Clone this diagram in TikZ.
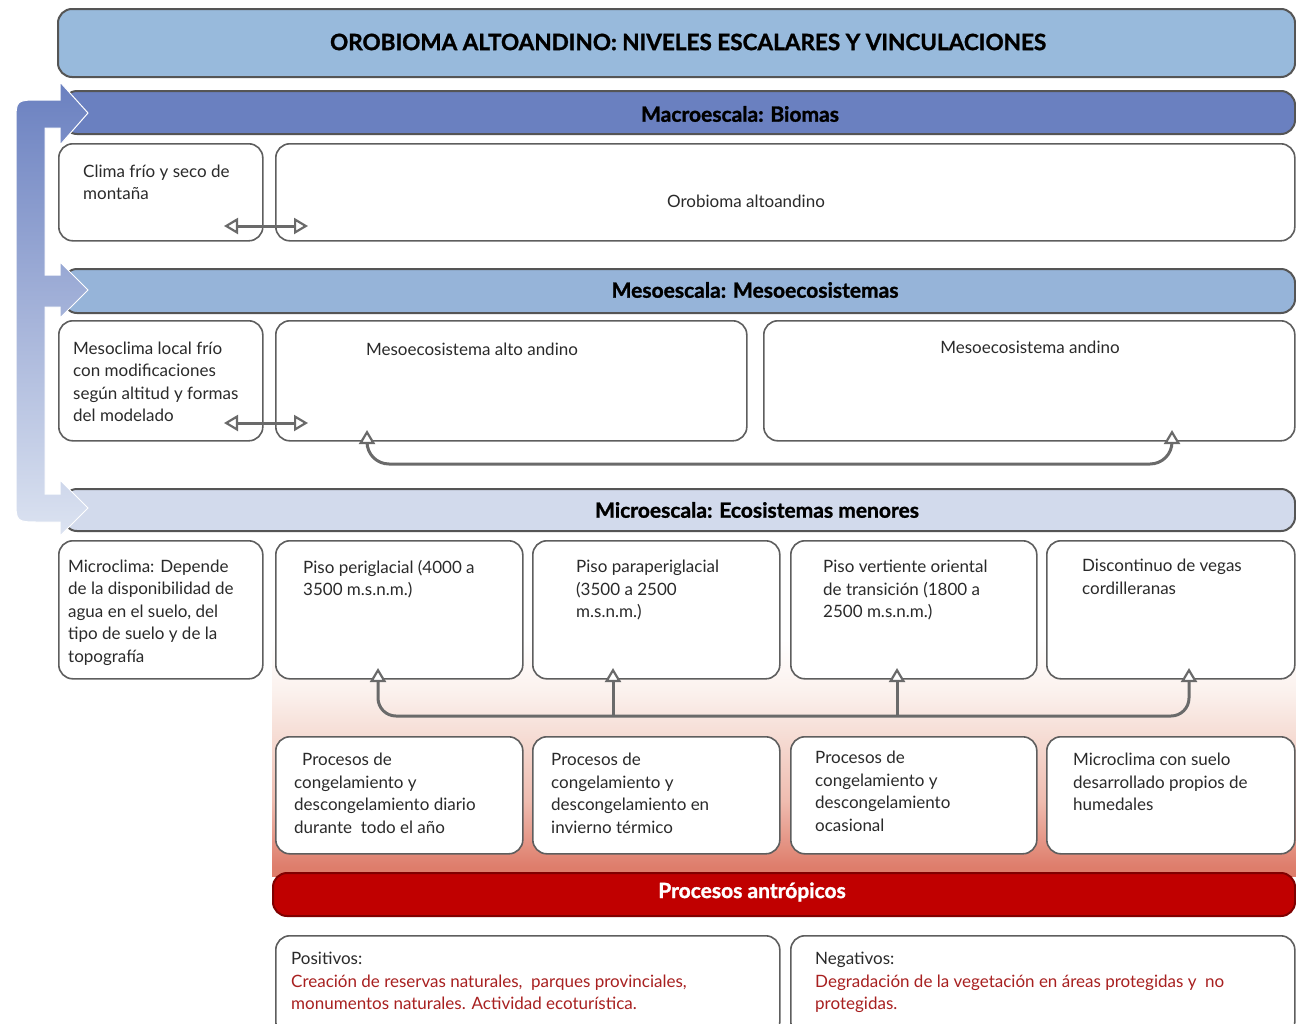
\documentclass[tikz,border=0pt]{standalone}
\usepackage{fontspec}
\setmainfont{Lato}
\newfontfamily\heavyfont[FakeBold=1.3]{Lato Bold}
\usetikzlibrary{arrows.meta}
\definecolor{bordc}{HTML}{5E5E5E}
\definecolor{bardc}{HTML}{555555}
\definecolor{txtc}{HTML}{2A2A2A}
\definecolor{connc}{HTML}{6A6A6A}
\definecolor{titlec}{HTML}{98BADC}
\definecolor{macroc}{HTML}{6A80C0}
\definecolor{mesoc}{HTML}{96B4D9}
\definecolor{microc}{HTML}{D2DAEC}
\definecolor{redc}{HTML}{C00000}
\definecolor{redtxt}{HTML}{A82020}
\definecolor{salmon}{HTML}{DE7D6B}
\definecolor{pinkA}{HTML}{EFBCB0}
\definecolor{pinkB}{HTML}{F6DDD5}
\definecolor{pinkC}{HTML}{FBF1ED}
\definecolor{arrtop}{HTML}{6A80C0}
\definecolor{arrbot}{HTML}{DCE3F1}
\pgfdeclareverticalshading{bgsh}{100bp}{color(0bp)=(salmon); color(27bp)=(salmon); color(41bp)=(pinkA); color(55bp)=(pinkB); color(64bp)=(pinkC); color(75bp)=(white); color(100bp)=(white)}
\tikzset{
  bx/.style={draw=bordc, line width=1.6pt, rounded corners=14pt, fill=white, anchor=north west, inner sep=0pt},
  bar/.style={draw=bardc, line width=2pt, rounded corners=14pt, anchor=north west, inner sep=0pt},
  txt/.style={anchor=north west, align=left, inner sep=0pt, font=\fontsize{17}{22.5}\selectfont, text=txtc},
  ctxt/.style={anchor=center, align=center, inner sep=0pt, font=\fontsize{17}{22.5}\selectfont, text=txtc},
  ttl/.style={anchor=center, inner sep=0pt, font=\fontsize{21}{24}\heavyfont, text=black},
  conn/.style={draw=connc, line width=3pt},
  otip/.tip={Triangle[open, width=16pt, length=14pt, line width=2.2pt, fill=white]},
}
\begin{document}
\begin{tikzpicture}[x=1pt,y=-1pt]
\useasboundingbox (0,0) rectangle (1296,1023);
\fill[white] (0,0) rectangle (1296,1023);

% gradient background
\shade[shading=bgsh] (272,640) rectangle (1296,876);

% title bar
\node[bar, fill=titlec, minimum width=1237pt, minimum height=68pt] (title) at (57,8) {};
\node[ttl, font=\fontsize{22.5}{24}\heavyfont] (titletxt) at (688,42) {OROBIOMA ALTOANDINO: NIVELES ESCALARES Y VINCULACIONES};

% macro
\node[bar, fill=macroc, minimum width=1232pt, minimum height=43pt] (macro) at (62,90) {};
\node[ttl] (macrotxt) at (740,114) {Macroescala: Biomas};
\node[bx, minimum width=204pt, minimum height=97pt] (clima) at (58,143) {};
\node[txt] (climatxt) at (83,164.5) {Clima frío y seco de\\montaña};
\node[bx, minimum width=1019pt, minimum height=97pt] (orob) at (275,143) {};
\node[ctxt] (orobtxt) at (746,201) {Orobioma altoandino};
\coordinate (da1) at (224,226);
\coordinate (db1) at (308,226);
\draw[conn, otip-otip] (da1) -- (db1);

% meso
\node[bar, fill=mesoc, minimum width=1232pt, minimum height=44pt] (meso) at (62,268) {};
\node[ttl] (mesotxt) at (755,290) {Mesoescala: Mesoecosistemas};
\node[bx, minimum width=204pt, minimum height=120pt] (mesocl) at (58,320) {};
\node[txt] (mesocltxt) at (73,341.5) {Mesoclima local frío\\con modificaciones\\según altitud y formas\\del modelado};
\node[bx, minimum width=471pt, minimum height=120pt] (altoand) at (275,320) {};
\node[ctxt] (altoandtxt) at (472,349) {Mesoecosistema alto andino};
\node[bx, minimum width=531pt, minimum height=120pt] (andino) at (763,320) {};
\node[ctxt] (andinotxt) at (1030,347) {Mesoecosistema andino};
\coordinate (da2) at (224,423);
\coordinate (db2) at (308,423);
\draw[conn, otip-otip] (da2) -- (db2);
\coordinate (m1) at (367,430);
\coordinate (m2) at (1172,430);
\coordinate (m1b) at (367,464);
\coordinate (m2b) at (1172,464);
\draw[conn, rounded corners=22pt, otip-otip] (m1) -- (m1b) -- (m2b) -- (m2);

% micro
\node[bar, fill=microc, minimum width=1232pt, minimum height=42pt] (micro) at (62,488) {};
\node[ttl] (microtxt) at (757,510) {Microescala: Ecosistemas menores};
\node[bx, minimum width=204pt, minimum height=138pt] (microcl) at (58,540) {};
\node[txt] (microcltxt) at (68,559.5) {Microclima: Depende\\de la disponibilidad de\\agua en el suelo, del\\tipo de suelo y de la\\topografía};
\node[bx, minimum width=247pt, minimum height=138pt] (p1) at (275,540) {};
\node[txt] (p1txt) at (303,560) {Piso periglacial (4000 a\\3500 m.s.n.m.)};
\node[bx, minimum width=247pt, minimum height=138pt] (p2) at (532,540) {};
\node[txt] (p2txt) at (576,560) {Piso paraperiglacial\\(3500 a 2500\\m.s.n.m.)};
\node[bx, minimum width=246pt, minimum height=138pt] (p3) at (790,540) {};
\node[txt] (p3txt) at (823,560) {Piso vertiente oriental\\de transición (1800 a\\2500 m.s.n.m.)};
\node[bx, minimum width=248pt, minimum height=138pt] (p4) at (1046,540) {};
\node[txt] (p4txt) at (1082,559) {Discontinuo de vegas\\cordilleranas};

% procesos
\node[bx, minimum width=247pt, minimum height=117pt] (q1) at (275,736) {};
\node[txt] (q1txt) at (294,753) {\hspace{8pt}Procesos de\\congelamiento y\\descongelamiento diario\\durante\ \ todo el año};
\node[bx, minimum width=247pt, minimum height=117pt] (q2) at (532,736) {};
\node[txt] (q2txt) at (551,753) {Procesos de\\congelamiento y\\descongelamiento en\\invierno térmico};
\node[bx, minimum width=246pt, minimum height=117pt] (q3) at (790,736) {};
\node[txt] (q3txt) at (815,751) {Procesos de\\congelamiento y\\descongelamiento\\ocasional};
\node[bx, minimum width=248pt, minimum height=117pt] (q4) at (1046,736) {};
\node[txt] (q4txt) at (1073,753) {Microclima con suelo\\desarrollado propios de\\humedales};

% connectors between rows
\coordinate (u1) at (378,668);
\coordinate (u2) at (613,668);
\coordinate (u3) at (897,668);
\coordinate (u4) at (1189,668);
\coordinate (h1) at (378,716);
\coordinate (h2) at (613,716);
\coordinate (h3) at (897,716);
\coordinate (h4) at (1189,716);
\draw[conn, rounded corners=18pt, otip-otip] (u1) -- (h1) -- (h4) -- (u4);
\draw[conn, -otip] (h2) -- (u2);
\draw[conn, -otip] (h3) -- (u3);

% antropicos
\node[bar, draw=red!50!black, fill=redc, minimum width=1022pt, minimum height=43pt] (antro) at (272,872) {};
\node[ttl, text=white] (antrotxt) at (752,892) {Procesos antrópicos};
\node[bx, minimum width=504pt, minimum height=100pt] (pos) at (275,935) {};
\node[txt] (postxt) at (291,952) {Positivos:\\\textcolor{redtxt}{Creación de reservas naturales,\ \ parques provinciales,}\\\textcolor{redtxt}{monumentos naturales. Actividad ecoturística.}};
\node[bx, minimum width=504pt, minimum height=100pt] (neg) at (790,935) {};
\node[txt] (negtxt) at (815,952) {Negativos:\\\textcolor{redtxt}{Degradación de la vegetación en áreas protegidas y\ \ no}\\\textcolor{redtxt}{protegidas.}};

% left bent arrow
\shade[top color=arrtop, bottom color=arrbot, draw=white, line width=1pt]
  (45,128) -- (45,275) -- (60,275) -- (60,262) -- (88,290) -- (60,318) -- (60,307)
  -- (45,307) -- (45,494) -- (60,494) -- (60,480) -- (88,508) -- (60,536) -- (60,522)
  -- (40,522) .. controls (16,522) .. (16,500) -- (16,122) .. controls (16,100) .. (40,100)
  -- (60,100) -- (60,82) -- (88,113) -- (60,145) -- (60,128) -- cycle;
\end{tikzpicture}
\end{document}
